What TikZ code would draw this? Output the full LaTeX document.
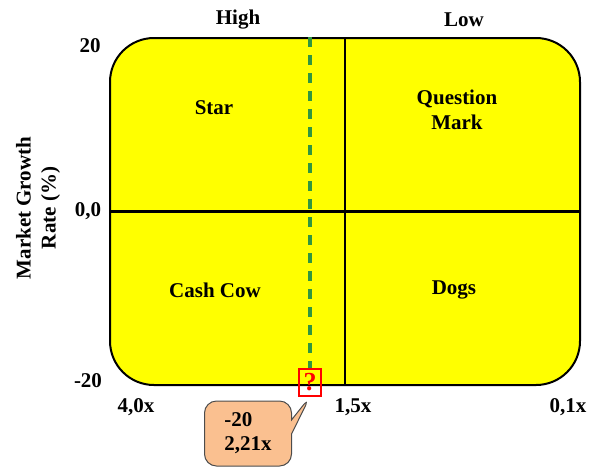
\documentclass[tikz,border=0pt]{standalone}
\usepackage{fontspec}
\setmainfont{Liberation Serif}
\usetikzlibrary{shapes.callouts, positioning}
\definecolor{bcgyellow}{RGB}{255,255,0}
\definecolor{cutgreen}{RGB}{48,150,64}
\definecolor{notepeach}{RGB}{250,192,144}
\tikzset{
    bcgbox/.style={rectangle, draw=black, fill=bcgyellow, rounded corners=22pt, line width=1pt, minimum width=235pt, minimum height=173.5pt},
    quadlabel/.style={font=\bfseries\fontsize{10.5}{12.5}\selectfont, align=center, inner sep=0pt},
    scalelabel/.style={font=\bfseries\fontsize{10.5}{12.5}\selectfont, inner sep=0pt},
    divider/.style={draw=black, line width=#1},
    cutline/.style={draw=cutgreen, line width=2pt, dash pattern=on 5pt off 4pt},
    qbox/.style={rectangle, draw=red, line width=0.6pt, minimum width=11pt, minimum height=13.5pt, inner sep=0pt, text=red, font=\bfseries\fontsize{13}{13}\selectfont},
    notecallout/.style={rectangle callout, draw=black!70, fill=notepeach, rounded corners=6pt, line width=0.5pt, minimum width=43.5pt, minimum height=32.5pt, callout pointer width=7pt, align=left, inner sep=0pt, font=\bfseries\fontsize{10.5}{12}\selectfont}
}

\begin{document}
\begin{tikzpicture}[x=0.5pt, y=-0.5pt]
\useasboundingbox (0,0) rectangle (589,468);

% matrix and quadrant dividers
\node[bcgbox] (bcg) at (345,211.5) {};
\draw[divider=0.75pt] (bcg.north) -- (bcg.south);
\draw[divider=1.25pt] (bcg.west) -- (bcg.east);

\node[quadlabel] (star) at (214,108) {Star};
\node[quadlabel] (qmarkq) at (457,110) {Question\\Mark};
\node[quadlabel] (cow) at (215,290) {Cash Cow};
\node[quadlabel] (dogs) at (454,290) {Dogs};

% scale labels
\node[scalelabel] (high) at (238,20) {High};
\node[scalelabel] (low) at (464,20) {Low};
\node[scalelabel] (ytop) at (90,46) {20};
\node[scalelabel] (ymid) at (88,211) {0,0};
\node[scalelabel] (ybot) at (88,381) {-20};
\node[scalelabel] (xleft) at (136,407) {4,0x};
\node[scalelabel] (xmid) at (353,407) {1,5x};
\node[scalelabel] (xright) at (568,407) {0,1x};
\node[scalelabel, rotate=90, align=center] (ylabel) at (38,208) {Market Growth\\Rate (\%)};

% cut-off point
\node[qbox] (qmark) at (310,382.5) {?};
\draw[cutline] (qmark.north |- bcg.north) -- (qmark.north);
\node[notecallout, callout absolute pointer=(qmark.south)] (note) at (248,433.5) {-20\\2,21x};

\end{tikzpicture}
\end{document}
